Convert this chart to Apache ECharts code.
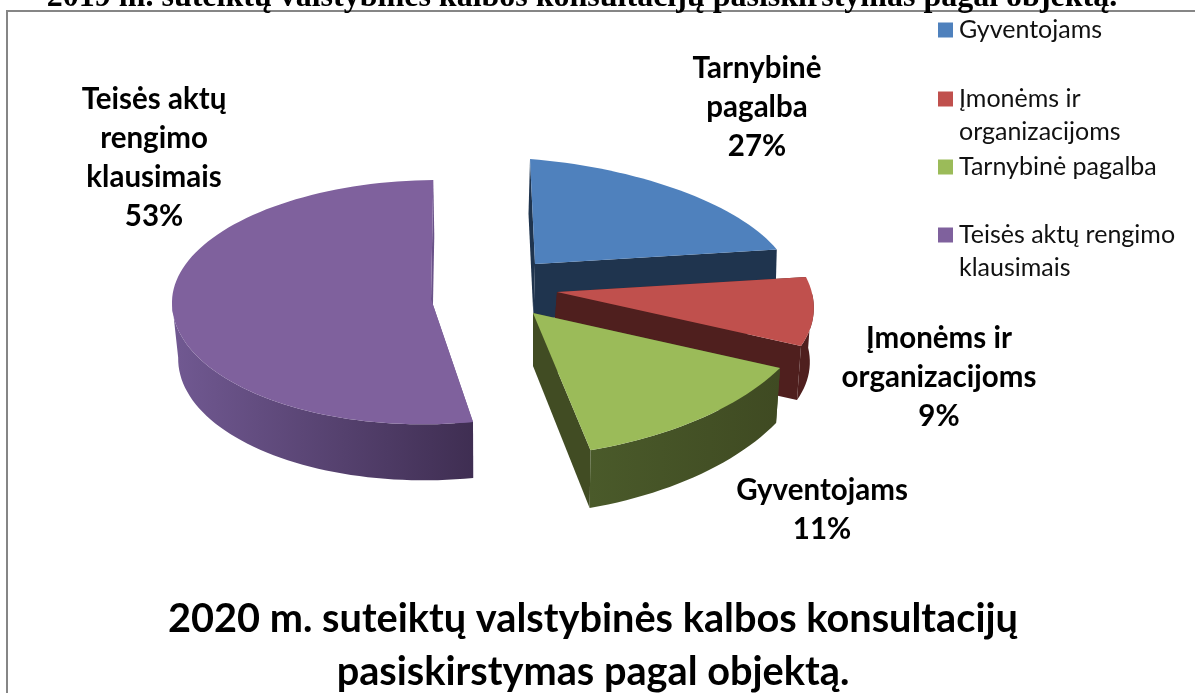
<!DOCTYPE html>
<html><head><meta charset="utf-8">
<style>html,body{margin:0;padding:0;background:#fff}#c{width:1195px;height:693px}</style>
<script src="https://cdn.jsdelivr.net/npm/echarts@6/dist/echarts.min.js"></script>
</head><body><div id="c"></div>
<script>
// ---- data ----
const legendNames = ['Gyventojams', 'Įmonėms ir\norganizacijoms', 'Tarnybinė pagalba', 'Teisės aktų rengimo\nklausimais'];
const sliceValues = [27, 9, 11, 53];
const sliceLabels = ['Tarnybinė\npagalba', 'Įmonėms ir\norganizacijoms', 'Gyventojams', 'Teisės aktų\nrengimo\nklausimais'];
const chartTitle = '2020 m. suteiktų valstybinės kalbos konsultacijų\npasiskirstymas pagal objektą.';
const clippedHeading = '2019 m. suteiktų valstybinės kalbos konsultacijų pasiskirstymas pagal objektą.';

// ---- style: projection of each exploded slice of the tilted disc ----
const topColors = ['#4F81BD', '#C0504D', '#9BBB59', '#7F619D'];
const wallColors = [['#1F344E', '#1F344E'], ['#4F1F1E', '#4F1F1E'], ['#4A5A2A', '#3F4A22'], ['#715992', '#3F2E52']];
const cutColors = ['#1F344E', '#4F1F1E', '#414C23', '#6A5289'];
const apexes = [[535, 264], [557, 292], [533, 313], [431, 299]];
const axesA = [[-5, -105], [249, -15], [247, 55], [42, 123]];
const axesB = [[257.5, 20.8], [63, 124.4], [-137.8, 133.8], [-255.6, 24]];
const warps = [0.73, 1, 1.24, 0.995];
const backScales = [1, 1, 1, 0.95];
const depths = [[-1.5, 55], [-4, 54], [0, 53], [1, 56]];
const shrinksX = [1, 1, 0.984, 0.98];
const shrinksY = [1, 1, 1.036, 1];
const labelPos = [[757, 107], [939, 377], [822, 510], [154, 158]];
const legendCenters = [30, 99, 167, 235];
const drawOrder = [3, 0, 1, 2];

const LEG = 'Lato, Carlito, sans-serif';
const total = sliceValues.reduce((a, b) => a + b, 0);
function makeRender(i) {
  return function (params, api) {
    const value = api.value(0);
    const sweep = value / total * 360 * warps[i];
    const ap = apexes[i], A = axesA[i], B = axesB[i], d = depths[i];
    const at = deg => {
      const r = deg * Math.PI / 180;
      const y = A[1] * Math.cos(r) + B[1] * Math.sin(r);
      return [A[0] * Math.cos(r) + B[0] * Math.sin(r), y < 0 ? y * backScales[i] : y];
    };
    const top = v => [ap[0] + v[0], ap[1] + v[1]];
    const bot = v => [ap[0] + d[0] + v[0] * shrinksX[i], ap[1] + d[1] + v[1] * shrinksY[i]];
    const arc = [];
    const n = Math.max(12, Math.ceil(sweep / 2));
    for (let k = 0; k <= n; k++) arc.push(at(sweep * k / n));
    const first = arc[0], last = arc[n], zero = [0, 0];
    const front = arc.filter(v => v[1] >= 0);
    const poly = (pts, fill) => ({ type: 'polygon', shape: { points: pts }, style: { fill, stroke: null }, silent: true });
    const wallFill = { type: 'linear', x: 0, y: 0, x2: 1, y2: 0, colorStops: [
      { offset: 0, color: wallColors[i][0] }, { offset: 1, color: wallColors[i][1] }] };
    const children = [
      poly([top(first), bot(first), bot(zero), top(zero)], cutColors[i]),
      poly([top(zero), top(last), bot(last), bot(zero)], cutColors[i])
    ];
    if (front.length > 1) children.push(poly(front.map(top).concat(front.slice().reverse().map(bot)), wallFill));
    children.push(poly([top(zero)].concat(arc.map(top)), topColors[i]));
    children.push({ type: 'text', z2: 50, silent: true, style: {
      x: labelPos[i][0], y: labelPos[i][1],
      text: sliceLabels[i] + '\n' + value + '%',
      align: 'center', verticalAlign: 'middle',
      font: 'bold 29.5px ' + LEG, lineHeight: 39, fill: '#000' } });
    return { type: 'group', children };
  };
}
const series = drawOrder.map(i => ({
  type: 'custom', name: legendNames[i], coordinateSystem: 'none', silent: true,
  itemStyle: { color: topColors[i] }, z: 2 + drawOrder.indexOf(i),
  data: [[sliceValues[i]]],
  renderItem: makeRender(i), animation: false
}));
const legends = legendNames.map((name, i) => {
  const twoLine = name.indexOf('\n') >= 0;
  return {
    show: true, data: [name], selectedMode: false, orient: 'vertical', padding: 0,
    left: 938, top: legendCenters[i] - (twoLine ? 49.5 : 16.5),
    icon: 'rect', itemWidth: 15, itemHeight: 15, itemGap: 0,
    formatter: n => (n.indexOf('\n') >= 0 ? ' \n' : '') + n,
    textStyle: { fontFamily: LEG, fontSize: 25, lineHeight: 33, color: '#111', padding: [0, 0, 0, 1] }
  };
});
const chart = echarts.init(document.getElementById('c'), null, { renderer: 'canvas' });
chart.setOption({
  backgroundColor: '#fff', animation: false,
  title: [
    { text: chartTitle, left: 593, top: 593, textAlign: 'center', padding: 0,
      textStyle: { fontFamily: LEG, fontWeight: 'bold', fontSize: 39.7, lineHeight: 53, color: '#000' } },
    { text: clippedHeading, left: 582, top: -17, textAlign: 'center', padding: 0,
      textStyle: { fontFamily: '"Liberation Serif", serif', fontWeight: 'bold', fontSize: 32, lineHeight: 30, color: '#000' } }
  ],
  legend: legends,
  graphic: [{ type: 'rect', silent: true, z: 0, shape: { x: 7, y: 11, width: 1300, height: 800 },
    style: { fill: 'none', stroke: '#868686', lineWidth: 2 } }],
  series
});
</script></body></html>
